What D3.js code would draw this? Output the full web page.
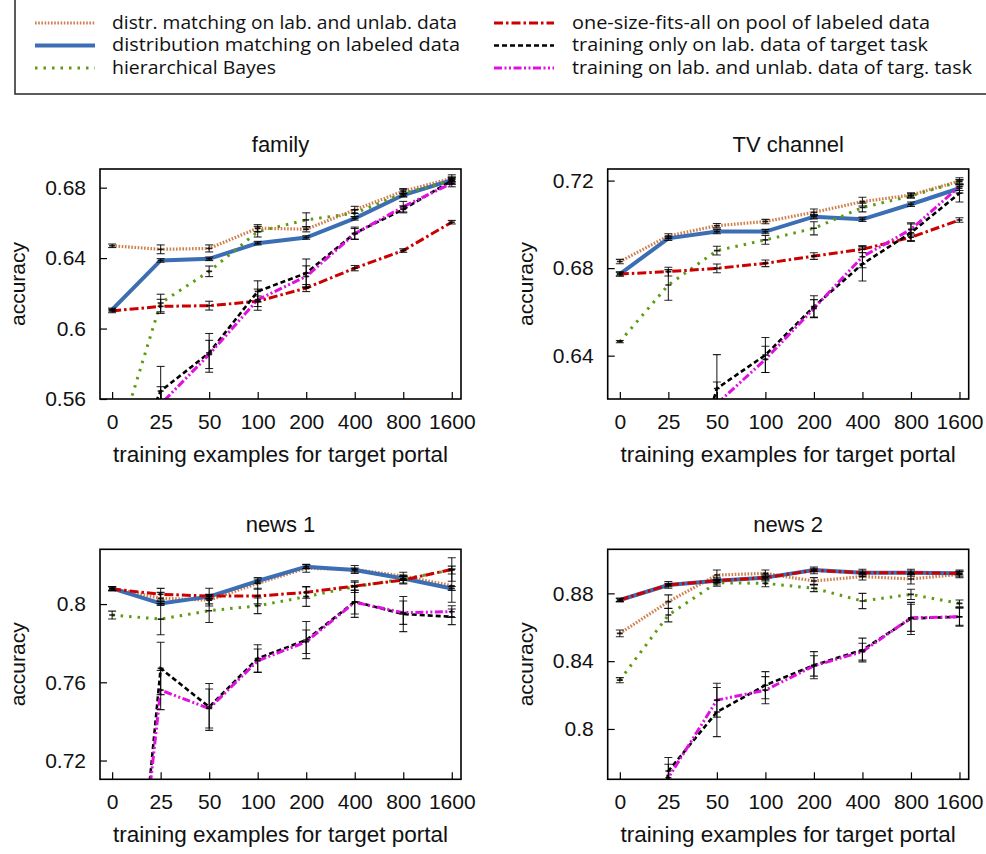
<!DOCTYPE html>
<html>
<head>
<meta charset="utf-8">
<script src="https://cdn.jsdelivr.net/npm/d3@7"></script>
<style>
  body { margin: 0; background: #fff; }
  svg { display: block; }
  .axis text { font-family: "Liberation Sans", Arial, sans-serif; font-size: 21px; fill: #111; }
  .lbl { font-family: "Liberation Sans", Arial, sans-serif; font-size: 21px; fill: #111; }
  .xlbl { font-family: "Liberation Sans", Arial, sans-serif; font-size: 22.5px; fill: #111; }
  .ttl { font-family: "Liberation Sans", Arial, sans-serif; font-size: 22px; fill: #111; }
  .leg { font-family: "Open Sans", "Noto Sans", sans-serif; font-size: 18px; fill: #111; }
</style>
</head>
<body>
<svg width="986" height="854"></svg>
<script>
// x categories (training examples for target portal)
var xLabels = ["0", "25", "50", "100", "200", "400", "800", "1600"];

var seriesNames = [
  "distr. matching on lab. and unlab. data",
  "distribution matching on labeled data",
  "hierarchical Bayes",
  "one-size-fits-all on pool of labeled data",
  "training only on lab. data of target task",
  "training on lab. and unlab. data of targ. task"
];

// family
var familyVals = [
  [0.647, 0.645, 0.6455, 0.657, 0.6564, 0.6674, 0.678, 0.6853],
  [0.6108, 0.6387, 0.6396, 0.6485, 0.6517, 0.6626, 0.6758, 0.6843],
  [0.525, 0.6145, 0.6325, 0.655, 0.6617, 0.6655, 0.6768, 0.684],
  [0.61, 0.6126, 0.613, 0.6155, 0.623, 0.6343, 0.6443, 0.6604],
  [0.5, 0.5645, 0.5862, 0.6211, 0.6315, 0.6541, 0.6677, 0.684],
  [0.5, 0.557, 0.5853, 0.6164, 0.6296, 0.6538, 0.6692, 0.6825]
];
var familyErr = [
  [0.001, 0.0025, 0.002, 0.002, 0.0015, 0.002, 0.0015, 0.002],
  [0.0008, 0.001, 0.001, 0.001, 0.001, 0.001, 0.001, 0.001],
  [0.002, 0.005, 0.003, 0.003, 0.004, 0.002, 0.002, 0.002],
  [0.001, 0.004, 0.0025, 0.003, 0.002, 0.0015, 0.001, 0.001],
  [0.01, 0.014, 0.011, 0.006, 0.008, 0.0035, 0.002, 0.002],
  [0.01, 0.01, 0.008, 0.006, 0.006, 0.003, 0.003, 0.002]
];
var familyTicks = [0.56, 0.6, 0.64, 0.68];

// TV channel
var tvVals = [
  [0.683, 0.6947, 0.6994, 0.7013, 0.7055, 0.7104, 0.7134, 0.7198],
  [0.6773, 0.6936, 0.6967, 0.6967, 0.7035, 0.7023, 0.7092, 0.7165],
  [0.6464, 0.6723, 0.688, 0.6929, 0.6982, 0.7077, 0.713, 0.7195],
  [0.6773, 0.6784, 0.6799, 0.6822, 0.6855, 0.6886, 0.6941, 0.702],
  [0.5, 0.55, 0.625, 0.6403, 0.6624, 0.6819, 0.6962, 0.7142],
  [0.5, 0.545, 0.618, 0.6383, 0.6616, 0.6852, 0.6977, 0.7173]
];
var tvErr = [
  [0.001, 0.001, 0.001, 0.001, 0.0015, 0.002, 0.001, 0.0015],
  [0.0008, 0.001, 0.001, 0.001, 0.001, 0.001, 0.001, 0.001],
  [0.0005, 0.007, 0.002, 0.002, 0.003, 0.002, 0.001, 0.001],
  [0.001, 0.002, 0.002, 0.0015, 0.0015, 0.0015, 0.0015, 0.001],
  [0.01, 0.01, 0.0155, 0.008, 0.005, 0.0078, 0.004, 0.004],
  [0.01, 0.01, 0.01, 0.006, 0.004, 0.005, 0.003, 0.003]
];
var tvTicks = [0.64, 0.68, 0.72];

// news 1
var news1Vals = [
  [0.808, 0.803, 0.802, 0.8106, 0.8183, 0.8177, 0.8143, 0.8094],
  [0.808, 0.8003, 0.8038, 0.8118, 0.8191, 0.8174, 0.8131, 0.808],
  [0.7944, 0.7923, 0.7966, 0.7991, 0.8038, 0.8089, 0.8128, 0.8174],
  [0.8077, 0.805, 0.8041, 0.8041, 0.806, 0.8092, 0.8123, 0.8177],
  [0.51, 0.7671, 0.7474, 0.7722, 0.7816, 0.8012, 0.7949, 0.7935],
  [0.53, 0.756, 0.7466, 0.771, 0.7807, 0.8009, 0.7956, 0.7961]
];
var news1Err = [
  [0.001, 0.003, 0.003, 0.003, 0.002, 0.002, 0.002, 0.0085],
  [0.001, 0.001, 0.001, 0.001, 0.001, 0.001, 0.001, 0.001],
  [0.002, 0.008, 0.006, 0.004, 0.005, 0.003, 0.002, 0.002],
  [0.001, 0.003, 0.004, 0.004, 0.003, 0.002, 0.002, 0.006],
  [0.01, 0.0134, 0.012, 0.007, 0.0095, 0.008, 0.009, 0.004],
  [0.01, 0.01, 0.01, 0.006, 0.006, 0.006, 0.006, 0.003]
];
var news1Ticks = [0.72, 0.76, 0.8];

// news 2
var news2Vals = [
  [0.8564, 0.8751, 0.8908, 0.8918, 0.8873, 0.8899, 0.8885, 0.8912],
  [0.8761, 0.8849, 0.8875, 0.8893, 0.8938, 0.8922, 0.8922, 0.8918],
  [0.8288, 0.8672, 0.8863, 0.8859, 0.883, 0.8755, 0.8794, 0.8741],
  [0.8761, 0.885, 0.8875, 0.8893, 0.8936, 0.8922, 0.8922, 0.8918],
  [0.55, 0.7752, 0.81, 0.8258, 0.8376, 0.8466, 0.8652, 0.8662],
  [0.55, 0.7712, 0.817, 0.8229, 0.8372, 0.8456, 0.8656, 0.8662]
];
var news2Err = [
  [0.002, 0.004, 0.003, 0.002, 0.002, 0.002, 0.003, 0.002],
  [0.001, 0.001, 0.001, 0.001, 0.001, 0.001, 0.001, 0.001],
  [0.0015, 0.004, 0.002, 0.002, 0.002, 0.0045, 0.003, 0.002],
  [0.001, 0.002, 0.002, 0.002, 0.002, 0.002, 0.002, 0.002],
  [0.01, 0.008, 0.0145, 0.008, 0.008, 0.007, 0.0095, 0.0055],
  [0.01, 0.008, 0.01, 0.008, 0.006, 0.005, 0.008, 0.005]
];
var news2Ticks = [0.8, 0.84, 0.88];

var STYLES = [
  { color: "#cf7f4c", width: 3.2, dash: "1.6,1.6" },
  { color: "#3c6eb4", width: 4, dash: null },
  { color: "#5e9a12", width: 3, dash: "2.5,6" },
  { color: "#cc0000", width: 3, dash: "9,3,2.5,3" },
  { color: "#000000", width: 2.6, dash: "5,3" },
  { color: "#e010e0", width: 3, dash: "8,2.5,2,2.5,2,2.5" }
];

var svg = d3.select("svg");
svg.append("rect").attr("width", 986).attr("height", 854).attr("fill", "#fff");

function draw_panel(p, idx) {
  var x = d3.scaleLinear().domain([-0.25, 7.19]).range([p.left, p.left + 361]);
  var y = d3.scaleLinear().domain(p.domain).range([p.top + 230, p.top]);

  var g = svg.append("g");

  g.append("clipPath").attr("id", "clip" + idx)
    .append("rect")
    .attr("x", p.left).attr("y", p.top)
    .attr("width", 361).attr("height", 230);

  // axes, ticks pointing inward
  g.append("g")
    .attr("class", "axis")
    .attr("transform", "translate(0," + (p.top + 230) + ")")
    .call(d3.axisBottom(x).tickValues(d3.range(xLabels.length))
      .tickFormat(function(i) { return xLabels[i]; })
      .tickSizeInner(-7).tickSizeOuter(0).tickPadding(15))
    .call(function(a) { a.select(".domain").remove(); })
    .selectAll("line").attr("stroke", "#000").attr("stroke-width", 1.2);

  g.append("g")
    .attr("class", "axis")
    .attr("transform", "translate(" + p.left + ",0)")
    .call(d3.axisLeft(y).tickValues(p.ticks)
      .tickFormat(function(v) { return String(+v.toFixed(2)); })
      .tickSizeInner(-7).tickSizeOuter(0).tickPadding(14))
    .call(function(a) { a.select(".domain").remove(); })
    .selectAll("line").attr("stroke", "#000").attr("stroke-width", 1.2);

  var plot = g.append("g").attr("clip-path", "url(#clip" + idx + ")");

  var line = d3.line()
    .x(function(d, i) { return x(i); })
    .y(function(d) { return y(d); });

  p.vals.forEach(function(vals, s) {
    plot.append("path")
      .datum(vals)
      .attr("fill", "none")
      .attr("stroke", STYLES[s].color)
      .attr("stroke-width", STYLES[s].width)
      .attr("stroke-dasharray", STYLES[s].dash)
      .attr("d", line);
  });

  // error bars
  p.vals.forEach(function(vals, s) {
    var eb = plot.append("g")
      .attr("stroke", "#000")
      .attr("stroke-opacity", 0.85)
      .attr("stroke-width", 1.1);
    vals.forEach(function(v, i) {
      var e = p.err[s][i];
      var cx = x(i);
      eb.append("line").attr("x1", cx).attr("x2", cx)
        .attr("y1", y(v - e)).attr("y2", y(v + e));
      eb.append("line").attr("x1", cx - 4).attr("x2", cx + 4)
        .attr("y1", y(v - e)).attr("y2", y(v - e));
      eb.append("line").attr("x1", cx - 4).attr("x2", cx + 4)
        .attr("y1", y(v + e)).attr("y2", y(v + e));
      eb.append("line").attr("x1", cx - 3).attr("x2", cx + 3)
        .attr("y1", y(v)).attr("y2", y(v)).attr("stroke-width", 1.6);
    });
  });

  g.append("rect")
    .attr("x", p.left).attr("y", p.top)
    .attr("width", 361).attr("height", 230)
    .attr("fill", "none").attr("stroke", "#000").attr("stroke-width", 1.6);

  var cx = p.left + 180.5;
  g.append("text").attr("class", "ttl")
    .attr("x", cx).attr("y", p.top - 17)
    .attr("text-anchor", "middle").text(p.title);
  g.append("text").attr("class", "xlbl")
    .attr("x", cx).attr("y", p.top + 230 + 63)
    .attr("text-anchor", "middle").text("training examples for target portal");
  g.append("text").attr("class", "lbl")
    .attr("transform", "translate(" + (p.left - 75) + "," + (p.top + 115) + ") rotate(-90)")
    .attr("text-anchor", "middle").text("accuracy");
}

var panels = [
  { title: "family", left: 100, top: 169, domain: [0.56, 0.6906], ticks: familyTicks, vals: familyVals, err: familyErr },
  { title: "TV channel", left: 607.7, top: 169, domain: [0.6202, 0.7253], ticks: tvTicks, vals: tvVals, err: tvErr },
  { title: "news 1", left: 100, top: 549.3, domain: [0.7104, 0.828], ticks: news1Ticks, vals: news1Vals, err: news1Err },
  { title: "news 2", left: 607.7, top: 549.3, domain: [0.7703, 0.906], ticks: news2Ticks, vals: news2Vals, err: news2Err }
];
panels.forEach(draw_panel);

// legend
var legend = svg.append("g");
legend.append("rect")
  .attr("x", 15).attr("y", -5).attr("width", 1000).attr("height", 99)
  .attr("fill", "none").attr("stroke", "#333").attr("stroke-width", 1.6);

var legW = [345, 348, 164, 358, 356, 400];
seriesNames.forEach(function(name, s) {
  var col = Math.floor(s / 3), row = s % 3;
  var lx = col === 0 ? 35 : 494;
  var tx = col === 0 ? 112 : 572;
  var by = 28.5 + row * 22.5;
  legend.append("line")
    .attr("x1", lx).attr("x2", lx + 60)
    .attr("y1", by - 5.5).attr("y2", by - 5.5)
    .attr("stroke", STYLES[s].color)
    .attr("stroke-width", STYLES[s].width)
    .attr("stroke-dasharray", STYLES[s].dash);
  legend.append("text").attr("class", "leg")
    .attr("x", tx).attr("y", by)
    .attr("textLength", legW[s]).attr("lengthAdjust", "spacingAndGlyphs")
    .text(name);
});
</script>
</body>
</html>
